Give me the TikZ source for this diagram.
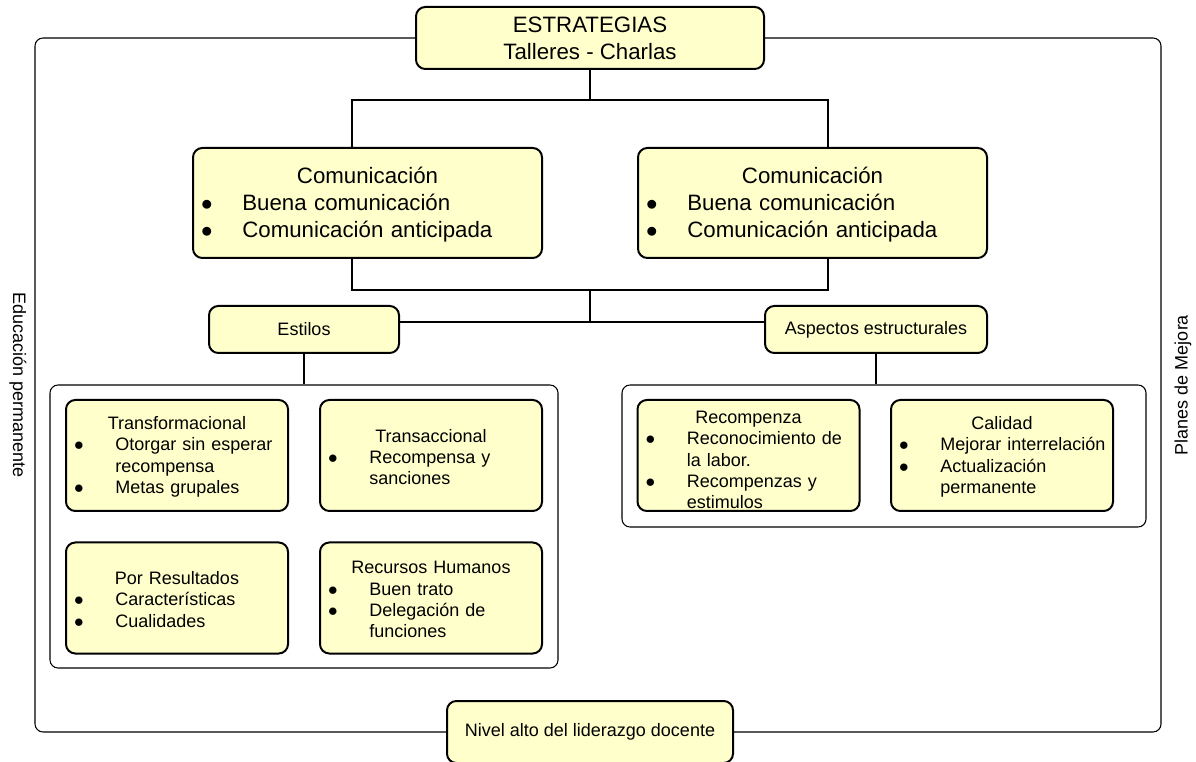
\documentclass[tikz,border=0pt]{standalone}
\usepackage{fontspec}
\setmainfont{Liberation Sans}
\definecolor{amarillo}{RGB}{255,255,204}
\newcommand{\chico}{\fontsize{13.5}{16}\selectfont}
\newcommand{\grande}{\fontsize{16.7}{20.3}\selectfont}
\newlength{\bulind}\setlength{\bulind}{31pt}
\setlength{\parskip}{0pt}
\newcommand{\ttl}[1]{\par\noindent\makebox[\hsize]{#1}}
\newcommand{\itm}[1]{\par\noindent\makebox[\bulind][l]{$\bullet$}\mbox{#1}}
\newcommand{\cnt}[1]{\par\noindent\hspace*{\bulind}\mbox{#1}}
\newcommand{\fin}[1]{\par\vspace{#1}}
\begin{document}
\begin{tikzpicture}[x=0.75pt, y=-0.75pt, line width=0.8pt,
		caja/.style = {draw, line width=1.5pt, rounded corners=7pt, fill=amarillo, inner sep=0pt, align=center, font=\chico},
		lista/.style = {caja, inner xsep=6pt, text width=154.5pt, minimum height=83.25pt, align=left, execute at end node=\fin{#1}},
		lista/.default = 4pt,
		marco/.style = {draw, rounded corners=6pt, inner sep=0pt}]
	\useasboundingbox (0,0) rectangle (1196,762);
	% marcos
	\node[marco, minimum width=844.5pt, minimum height=520.5pt] (borde) at (598,385) {};
	\node[marco, minimum width=381pt, minimum height=212.25pt] (grpL) at (304,526.5) {};
	\node[marco, minimum width=393pt, minimum height=106.5pt] (grpR) at (884,456) {};
	\node[rotate=-90, font=\chico] (edu) at (18,385) {Educación permanente};
	\node[rotate=90, font=\chico] (planes) at (1183,385) {Planes de Mejora};
	% cajas
	\node[caja, font=\grande, minimum width=261pt, minimum height=46.5pt] (top) at (590,38) {ESTRATEGIAS\\Talleres - Charlas};
	\node[caja, font=\grande, inner xsep=6pt, text width=249.75pt, minimum height=82.5pt, align=left, execute at end node=\fin{6pt}] (comL) at (367.5,203)
		{\ttl{Comunicación}\itm{Buena comunicación}\itm{Comunicación anticipada}};
	\node[caja, font=\grande, inner xsep=6pt, text width=249.75pt, minimum height=82.5pt, align=left, execute at end node=\fin{6pt}] (comR) at (812.5,203)
		{\ttl{Comunicación}\itm{Buena comunicación}\itm{Comunicación anticipada}};
	\node[caja, minimum width=142.5pt, minimum height=35.25pt] (estilos) at (304,329.5) {Estilos};
	\node[caja, minimum width=166.5pt, minimum height=35.25pt] (aspectos) at (876,329.5) {Aspectos estructurales};
	\node[lista] (tf) at (177,455.5) {\ttl{Transformacional}\itm{Otorgar sin esperar}\cnt{recompensa}\itm{Metas grupales}};
	\node[lista] (tc) at (431,455.5) {\ttl{Transaccional}\itm{Recompensa y}\cnt{sanciones}};
	\node[lista] (pr) at (177,598) {\ttl{Por Resultados}\itm{Características}\itm{Cualidades}};
	\node[lista] (rh) at (431,598) {\ttl{Recursos Humanos}\itm{Buen trato}\itm{Delegación de}\cnt{funciones}};
	\node[lista=0pt] (rc) at (748.5,455.5) {\ttl{Recompenza}\itm{Reconocimiento de}\cnt{la labor.}\itm{Recompenzas y}\cnt{estimulos}};
	\node[lista] (ca) at (1002,455.5) {\ttl{Calidad}\itm{Mejorar interrelación}\itm{Actualización}\cnt{permanente}};
	\node[caja, minimum width=214.5pt, minimum height=46.5pt] (nivel) at (590,732) {Nivel alto del liderazgo docente};
	% conectores
	\coordinate (ramaL) at (352,100);
	\coordinate (ramaR) at (828,100);
	\coordinate (unionL) at (352,290);
	\coordinate (unionR) at (828,290);
	\coordinate (medio) at (590,290);
	\coordinate (nudo) at (590,322);
	\draw (top.south) |- (ramaL) -- (ramaL |- comL.north);
	\draw (top.south |- ramaR) -- (ramaR) -- (ramaR |- comR.north);
	\draw (unionL |- comL.south) -- (unionL) -- (unionR) -- (unionR |- comR.south);
	\draw (medio) -- (nudo);
	\draw (estilos.east |- nudo) -- (aspectos.west |- nudo);
	\draw (estilos.south) -- (estilos.south |- grpL.north);
	\draw (aspectos.south) -- (aspectos.south |- grpR.north);
\end{tikzpicture}
\end{document}
